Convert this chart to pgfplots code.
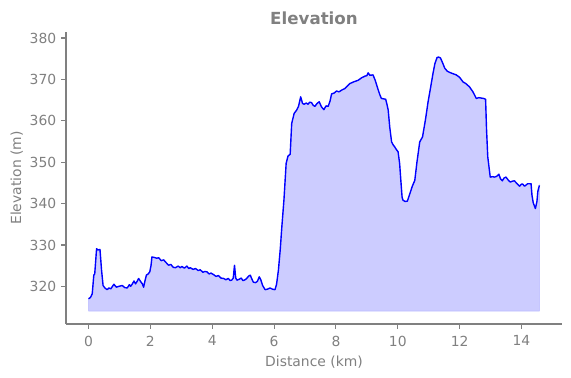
\documentclass[border=0pt]{standalone}
\usepackage{pgfplots}
\pgfplotsset{compat=1.18}
\usepackage{pgfplotstable}
\usepgfplotslibrary{fillbetween}
\usepackage{fontspec}
\setmainfont{DejaVu Sans}
\definecolor{tgray}{RGB}{128,128,128}
\definecolor{lblue}{RGB}{0,0,255}
\pgfplotstableread{
x y
0.00 317.0
0.06 317.3
0.12 318.2
0.17 322.7
0.20 323.0
0.26 329.1
0.30 328.8
0.37 328.9
0.42 324.0
0.47 320.2
0.53 319.6
0.60 319.2
0.66 319.6
0.72 319.4
0.82 320.5
0.90 319.8
0.98 320.0
1.09 320.2
1.17 319.7
1.25 319.6
1.32 320.4
1.36 320.0
1.41 320.5
1.47 321.3
1.52 320.6
1.57 321.2
1.62 321.9
1.68 321.2
1.74 320.6
1.78 319.8
1.83 321.5
1.87 322.7
1.93 323.0
1.98 323.5
2.02 325.0
2.05 327.1
2.12 327.0
2.20 326.8
2.27 326.9
2.35 326.2
2.43 326.4
2.50 325.8
2.59 325.1
2.66 325.3
2.74 324.6
2.81 324.5
2.90 324.9
2.96 324.5
3.02 324.8
3.10 324.4
3.18 324.9
3.24 324.3
3.29 324.5
3.38 324.1
3.46 324.3
3.55 323.8
3.61 324.0
3.70 323.4
3.76 323.6
3.83 323.5
3.90 323.0
3.96 323.2
4.05 322.8
4.12 322.4
4.20 322.6
4.28 322.0
4.37 321.9
4.44 321.6
4.52 321.9
4.58 321.4
4.63 321.5
4.68 322.0
4.72 325.1
4.76 322.0
4.80 321.5
4.87 321.7
4.94 322.0
4.99 321.4
5.04 321.5
5.10 321.8
5.18 322.5
5.23 322.7
5.28 321.8
5.33 321.0
5.40 320.9
5.46 321.2
5.52 322.3
5.57 321.6
5.63 320.2
5.71 319.2
5.78 319.3
5.87 319.6
5.95 319.3
6.03 319.2
6.08 320.5
6.14 323.9
6.20 329.0
6.25 334.3
6.32 341.0
6.39 349.7
6.45 351.5
6.52 351.9
6.57 359.4
6.65 361.8
6.73 362.6
6.79 363.5
6.86 365.8
6.92 364.2
6.97 364.0
7.04 364.3
7.10 364.0
7.15 364.5
7.21 364.4
7.27 363.7
7.32 363.5
7.39 364.2
7.46 364.6
7.53 363.4
7.61 362.7
7.68 363.6
7.75 363.5
7.81 364.8
7.86 366.5
7.94 366.7
8.02 367.2
8.10 367.0
8.18 367.4
8.29 367.8
8.37 368.4
8.45 369.0
8.57 369.4
8.72 369.8
8.83 370.4
8.94 370.8
9.00 370.9
9.04 371.6
9.10 371.0
9.20 371.1
9.27 369.8
9.37 367.4
9.42 366.3
9.47 365.4
9.55 365.3
9.61 365.2
9.65 364.0
9.69 362.6
9.74 358.5
9.80 354.9
9.85 354.2
9.90 353.7
9.96 353.0
10.01 352.5
10.06 349.7
10.10 345.5
10.14 341.5
10.17 340.8
10.24 340.5
10.31 340.6
10.40 342.6
10.47 344.2
10.55 345.6
10.62 350.0
10.71 354.9
10.80 356.1
10.90 360.5
10.98 364.6
11.06 368.0
11.14 371.5
11.20 373.8
11.27 375.3
11.32 375.4
11.38 375.2
11.45 374.0
11.52 372.7
11.60 372.0
11.68 371.7
11.78 371.4
11.89 371.1
12.00 370.5
12.11 369.4
12.20 369.0
12.32 368.2
12.43 367.0
12.50 366.0
12.54 365.4
12.62 365.6
12.70 365.5
12.78 365.4
12.84 365.2
12.87 358.0
12.91 351.3
12.99 346.4
13.06 346.5
13.13 346.4
13.20 346.6
13.27 347.1
13.32 346.0
13.38 345.5
13.44 346.2
13.50 346.4
13.58 345.6
13.64 345.2
13.70 345.4
13.77 345.5
13.86 344.8
13.94 344.2
14.00 344.7
14.04 344.7
14.10 344.2
14.20 344.8
14.31 344.8
14.34 342.0
14.38 340.2
14.45 338.8
14.50 340.5
14.53 343.0
14.58 344.4
}\elev
\begin{document}
\begin{tikzpicture}
\begin{axis}[
  at={(0pt,0pt)}, anchor=south west,
  scale only axis,
  width=357.1pt, height=210.2pt,
  xmin=-0.729, xmax=15.31,
  ymin=310.9, ymax=381.45,
  axis x line*=bottom, axis y line*=left,
  axis line style={tgray, line width=0.8pt, -},
  xtick={0,2,4,6,8,10,12,14},
  ytick={320,330,340,350,360,370,380},
  tick align=outside,
  major tick length=3.5pt,
  tick style={tgray, line width=0.8pt},
  tick label style={font=\fontsize{10}{12}\selectfont, text=tgray},
  xticklabel style={yshift=-1.5pt},
  /pgf/number format/assume math mode=true,
  /pgf/number format/1000 sep={},
  xlabel={Distance (km)},
  ylabel={Elevation (m)},
  label style={font=\fontsize{10}{12}\selectfont, text=tgray},
  xlabel style={yshift=0pt},
  ylabel style={yshift=-2pt},
  title={Elevation},
  title style={font=\bfseries\fontsize{12}{14}\selectfont, text=tgray, yshift=-4.2pt},
  clip=false,
]
\addplot[name path=top, draw=none, forget plot] table[x=x,y=y] {\elev};
\addplot[name path=base, draw=none, forget plot] coordinates {(0,314) (14.58,314)};
\addplot[fill=lblue, fill opacity=0.2, draw=lblue, draw opacity=0.25] fill between[of=top and base];
\addplot[lblue, line width=1pt, line join=round] table[x=x,y=y] {\elev};
\end{axis}
\pgfresetboundingbox
\path[use as bounding box] (-47.52pt,-38.88pt) rectangle (363.6pt,233.28pt);
\end{tikzpicture}
\end{document}
